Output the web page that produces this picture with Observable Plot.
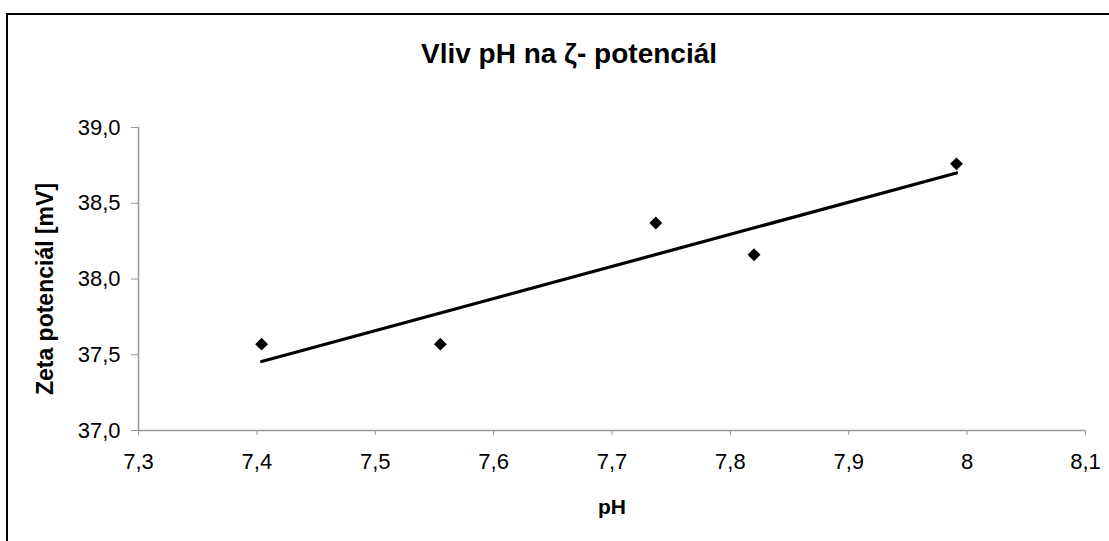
<!DOCTYPE html>
<html>
<head>
<meta charset="utf-8">
<script src="https://cdn.jsdelivr.net/npm/d3@7"></script>
<script src="https://cdn.jsdelivr.net/npm/@observablehq/plot@0.6"></script>
<style>
  html, body { margin: 0; padding: 0; background: #fff; overflow: hidden; }
  #wrap { position: relative; width: 1109px; height: 541px; font-family: "Liberation Sans", Arial, sans-serif; }
  #border { position: absolute; left: 6px; top: 13px; width: 1200px; height: 700px; border: 2px solid #000; box-sizing: border-box; }
  #chart { position: absolute; left: 0; top: 0; }
  .lbl { position: absolute; font-weight: bold; color: #000; white-space: nowrap; line-height: 1; }
  #title { left: 569px; top: 40px; transform: translateX(-50%); font-size: 28px; }
  #xlabel { left: 612px; top: 496px; transform: translateX(-50%); font-size: 21px; }
  #ylabel { left: 45px; top: 289px; transform: translate(-50%, -50%) rotate(-90deg); font-size: 23px; }
</style>
</head>
<body>
<div id="wrap">
  <div id="border"></div>
  <div id="chart"></div>
  <div class="lbl" id="title">Vliv pH na ζ- potenciál</div>
  <div class="lbl" id="xlabel">pH</div>
  <div class="lbl" id="ylabel">Zeta potenciál [mV]</div>
</div>
<script>
const pH = [7.404, 7.555, 7.737, 7.820, 7.991];
const zeta = [37.57, 37.57, 38.37, 38.16, 38.76];
const xTicks = [7.3, 7.4, 7.5, 7.6, 7.7, 7.8, 7.9, 8.0, 8.1];
const xTickLabels = ["7,3", "7,4", "7,5", "7,6", "7,7", "7,8", "7,9", "8", "8,1"];
const yTicks = [37.0, 37.5, 38.0, 38.5, 39.0];
const yTickLabels = ["37,0", "37,5", "38,0", "38,5", "39,0"];

const data = pH.map((x, i) => ({x, y: zeta[i]}));
const xLab = new Map(xTicks.map((t, i) => [t, xTickLabels[i]]));
const yLab = new Map(yTicks.map((t, i) => [t, yTickLabels[i]]));

const chart = Plot.plot({
  width: 1109,
  height: 541,
  marginLeft: 138,
  marginRight: 24,
  marginTop: 127,
  marginBottom: 111,
  style: { fontFamily: "'Liberation Sans', Arial, sans-serif", fontSize: "22px", color: "#000", background: "transparent", overflow: "visible" },
  x: { domain: [7.3, 8.1] },
  y: { domain: [37, 39] },
  marks: [
    Plot.axisX({ ticks: xTicks, tickFormat: d => xLab.get(d), tickSize: 5, tickPadding: 18, stroke: "#999", fill: "#000", label: null }),
    Plot.axisY({ ticks: yTicks, tickFormat: d => yLab.get(d), tickSize: 7, tickPadding: 11, stroke: "#999", fill: "#000", label: null }),
    Plot.ruleY([37], { stroke: "#999", strokeWidth: 1.5 }),
    Plot.ruleX([7.3], { stroke: "#999", strokeWidth: 1.5 }),
    Plot.linearRegressionY(data, { x: "x", y: "y", ci: 0, stroke: "#000", strokeWidth: 3.2 }),
    Plot.dot(data, { x: "x", y: "y", symbol: "diamond2", r: 5.8, fill: "#000", stroke: "none" })
  ]
});
document.getElementById("chart").appendChild(chart);
</script>
</body>
</html>
